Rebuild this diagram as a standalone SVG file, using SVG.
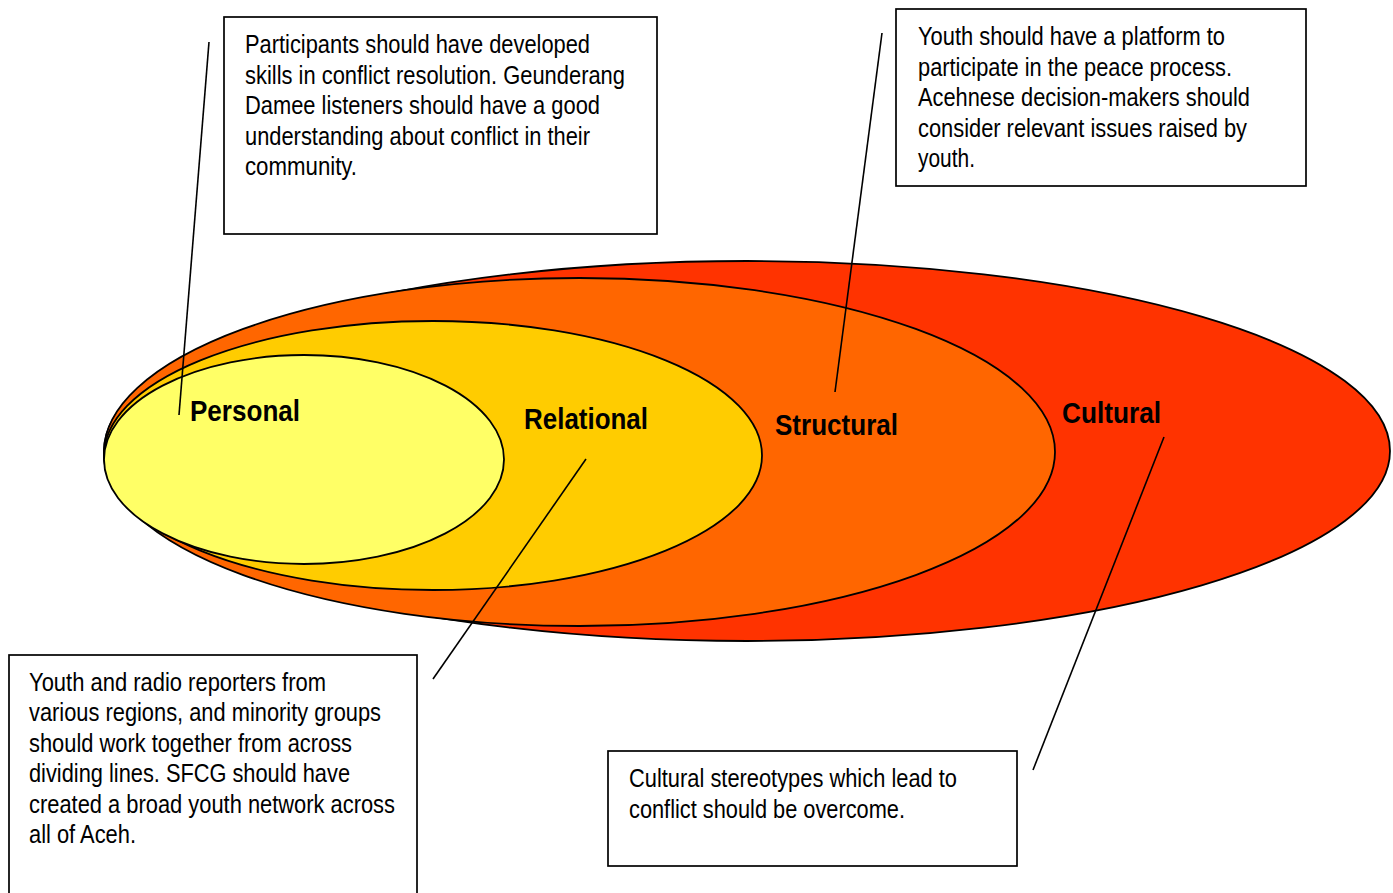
<svg xmlns="http://www.w3.org/2000/svg" width="1393" height="893" viewBox="0 0 1393 893">
<style>
.ring{stroke:#000;stroke-width:1.8}
.box{fill:#fff;stroke:#000;stroke-width:1.7}
.body{font-family:"Liberation Sans",Arial,sans-serif;font-size:25px;fill:#000}
.lbl{font-family:"Liberation Sans",Arial,sans-serif;font-size:29px;font-weight:bold;fill:#000}
.conn{stroke:#000;stroke-width:1.6;fill:none}
</style>
<rect width="1393" height="893" fill="#fff"/>
<g id="cultural">
<ellipse class="ring" cx="747" cy="451" rx="643" ry="190" fill="#FF3300"/>
</g>
<g id="structural">
<ellipse class="ring" cx="579.5" cy="452" rx="475.5" ry="174" fill="#FF6600"/>
</g>
<g id="relational">
<ellipse class="ring" cx="433" cy="455.5" rx="329" ry="134.5" fill="#FFCC00"/>
</g>
<g id="personal">
<ellipse class="ring" cx="304" cy="459.5" rx="200" ry="104.5" fill="#FFFF66"/>
</g>
<g id="labels">
<text class="lbl" x="190" y="421" textLength="110" lengthAdjust="spacingAndGlyphs">Personal</text>
<text class="lbl" x="524" y="429" textLength="124" lengthAdjust="spacingAndGlyphs">Relational</text>
<text class="lbl" x="775" y="435" textLength="123" lengthAdjust="spacingAndGlyphs">Structural</text>
<text class="lbl" x="1062" y="423" textLength="99" lengthAdjust="spacingAndGlyphs">Cultural</text>
</g>
<g id="box-personal">
<rect class="box" x="224" y="17" width="433" height="217"/>
<text class="body" x="245" y="53" textLength="345" lengthAdjust="spacingAndGlyphs">Participants should have developed</text>
<text class="body" x="245" y="83.5" textLength="380" lengthAdjust="spacingAndGlyphs">skills in conflict resolution. Geunderang</text>
<text class="body" x="245" y="114" textLength="355" lengthAdjust="spacingAndGlyphs">Damee listeners should have a good</text>
<text class="body" x="245" y="144.5" textLength="345" lengthAdjust="spacingAndGlyphs">understanding about conflict in their</text>
<text class="body" x="245" y="175" textLength="112" lengthAdjust="spacingAndGlyphs">community.</text>
</g>
<g id="box-structural">
<rect class="box" x="896" y="9" width="410" height="177"/>
<text class="body" x="918" y="45" textLength="307" lengthAdjust="spacingAndGlyphs">Youth should have a platform to</text>
<text class="body" x="918" y="75.5" textLength="314" lengthAdjust="spacingAndGlyphs">participate in the peace process.</text>
<text class="body" x="918" y="106" textLength="332" lengthAdjust="spacingAndGlyphs">Acehnese decision-makers should</text>
<text class="body" x="918" y="136.5" textLength="329" lengthAdjust="spacingAndGlyphs">consider relevant issues raised by</text>
<text class="body" x="918" y="167" textLength="57" lengthAdjust="spacingAndGlyphs">youth.</text>
</g>
<g id="box-relational">
<rect class="box" x="9" y="655" width="408" height="250"/>
<text class="body" x="29" y="690.5" textLength="297" lengthAdjust="spacingAndGlyphs">Youth and radio reporters from</text>
<text class="body" x="29" y="721" textLength="352" lengthAdjust="spacingAndGlyphs">various regions, and minority groups</text>
<text class="body" x="29" y="751.5" textLength="323" lengthAdjust="spacingAndGlyphs">should work together from across</text>
<text class="body" x="29" y="782" textLength="321" lengthAdjust="spacingAndGlyphs">dividing lines. SFCG should have</text>
<text class="body" x="29" y="812.5" textLength="366" lengthAdjust="spacingAndGlyphs">created a broad youth network across</text>
<text class="body" x="29" y="843" textLength="107" lengthAdjust="spacingAndGlyphs">all of Aceh.</text>
</g>
<g id="box-cultural">
<rect class="box" x="608" y="751" width="409" height="115"/>
<text class="body" x="629" y="787" textLength="328" lengthAdjust="spacingAndGlyphs">Cultural stereotypes which lead to</text>
<text class="body" x="629" y="817.5" textLength="276" lengthAdjust="spacingAndGlyphs">conflict should be overcome.</text>
</g>
<g id="connectors">
<line class="conn" x1="209" y1="42" x2="179" y2="415"/>
<line class="conn" x1="882" y1="33" x2="835" y2="392"/>
<line class="conn" x1="586" y1="459" x2="433" y2="679"/>
<line class="conn" x1="1164" y1="437" x2="1033" y2="770"/>
</g>
</svg>
